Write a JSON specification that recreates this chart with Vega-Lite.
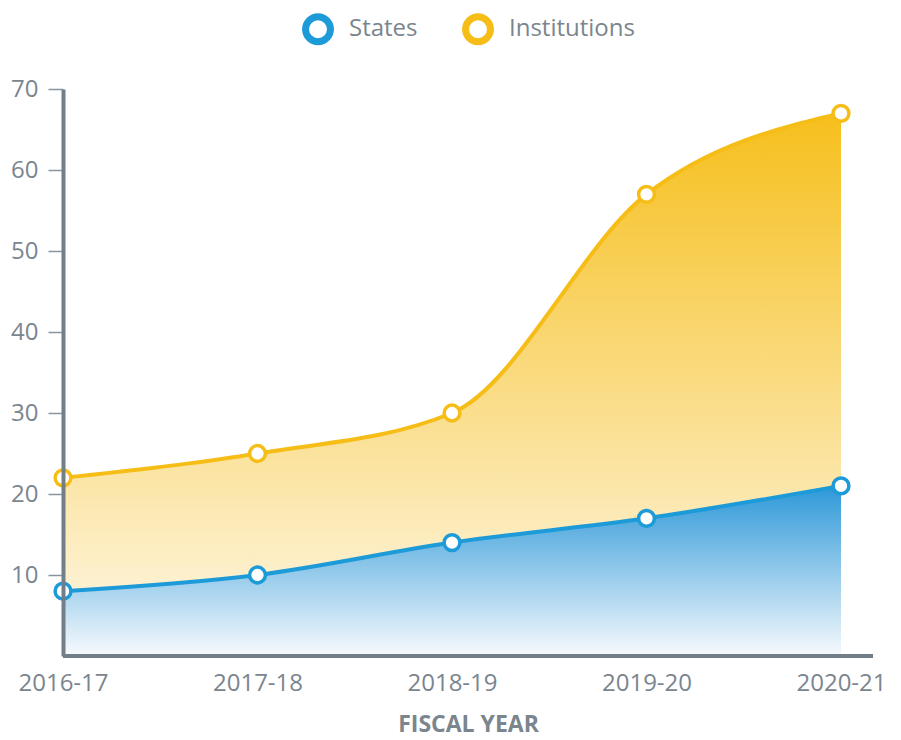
{
  "$schema": "https://vega.github.io/schema/vega-lite/v6.json",
  "autosize": "none",
  "width": 810,
  "height": 567,
  "padding": {"left": 63, "top": 89, "right": 28, "bottom": 84},
  "background": "white",
  "config": {
    "view": {"stroke": null},
    "font": "Open Sans",
    "axis": {"grid": false}
  },
  "datasets": {
    "main": [
      {"year": "2016-17", "series": "States", "value": 8},
      {"year": "2017-18", "series": "States", "value": 10},
      {"year": "2018-19", "series": "States", "value": 14},
      {"year": "2019-20", "series": "States", "value": 17},
      {"year": "2020-21", "series": "States", "value": 21},
      {"year": "2016-17", "series": "Institutions", "value": 22},
      {"year": "2017-18", "series": "Institutions", "value": 25},
      {"year": "2018-19", "series": "Institutions", "value": 30},
      {"year": "2019-20", "series": "Institutions", "value": 57},
      {"year": "2020-21", "series": "Institutions", "value": 67}
    ],
    "base": [{"value": 0}]
  },
  "layer": [
    {
      "data": {"name": "main"},
      "transform": [{"filter": "datum.series === 'Institutions'"}],
      "mark": {
        "type": "area", "interpolate": "monotone",
        "fill": {"gradient": "linear", "x1": 0, "y1": 0, "x2": 0, "y2": 1,
          "stops": [{"offset": 0, "color": "#f6bf1c"}, {"offset": 1, "color": "#fef8ea"}]}
      },
      "encoding": {
        "x": {
          "field": "year", "type": "ordinal",
          "scale": {"type": "point", "range": [0, 778], "padding": 0},
          "axis": {
            "title": "FISCAL YEAR", "titleFontSize": 23, "titleFontWeight": "bold", "titleColor": "#7b858e",
            "titlePadding": 18, "titleX": 405,
            "labelAngle": 0, "labelFontSize": 24, "labelColor": "#7b858e", "labelPadding": 15,
            "ticks": false, "domain": false
          }
        },
        "y": {
          "field": "value", "type": "quantitative",
          "scale": {"domain": [0, 70], "nice": false},
          "axis": {
            "title": null, "values": [10, 20, 30, 40, 50, 60, 70], "zindex": 1,
            "labelFontSize": 24, "labelColor": "#7b858e", "labelPadding": 10,
            "tickSize": 15, "tickColor": "#8a949c", "tickWidth": 1.5,
            "domainColor": "#737f88", "domainWidth": 4
          }
        }
      }
    },
    {
      "data": {"name": "main"},
      "transform": [{"filter": "datum.series === 'States'"}],
      "mark": {
        "type": "area", "interpolate": "monotone",
        "fill": {"gradient": "linear", "x1": 0, "y1": 0, "x2": 0, "y2": 1,
          "stops": [{"offset": 0, "color": "#2d98d8"}, {"offset": 1, "color": "#f7fafd"}]}
      },
      "encoding": {
        "x": {"field": "year", "type": "ordinal"},
        "y": {"field": "value", "type": "quantitative"}
      }
    },
    {
      "data": {"name": "base"},
      "mark": {"type": "rule", "color": "#737f88", "strokeWidth": 4},
      "encoding": {"y": {"field": "value", "type": "quantitative"}}
    },
    {
      "data": {"name": "main"},
      "mark": {"type": "line", "interpolate": "monotone", "strokeWidth": 4},
      "encoding": {
        "x": {"field": "year", "type": "ordinal"},
        "y": {"field": "value", "type": "quantitative"},
        "color": {
          "field": "series", "type": "nominal",
          "scale": {"domain": ["States", "Institutions"], "range": ["#1d9ad8", "#f6bd17"]},
          "legend": {
            "title": null, "orient": "none", "direction": "horizontal",
            "legendX": 239, "legendY": -76,
            "symbolType": "circle", "symbolSize": 620, "symbolStrokeWidth": 7,
            "symbolFillColor": "white",
            "labelFontSize": 24, "labelColor": "#7b858e", "labelOffset": 15,
            "columnPadding": 33
          }
        }
      }
    },
    {
      "data": {"name": "main"},
      "mark": {"type": "point", "filled": false, "fill": "white", "fillOpacity": 1, "size": 250, "strokeWidth": 3.5, "opacity": 1},
      "encoding": {
        "x": {"field": "year", "type": "ordinal"},
        "y": {"field": "value", "type": "quantitative"},
        "color": {"field": "series", "type": "nominal", "legend": null}
      }
    }
  ]
}
